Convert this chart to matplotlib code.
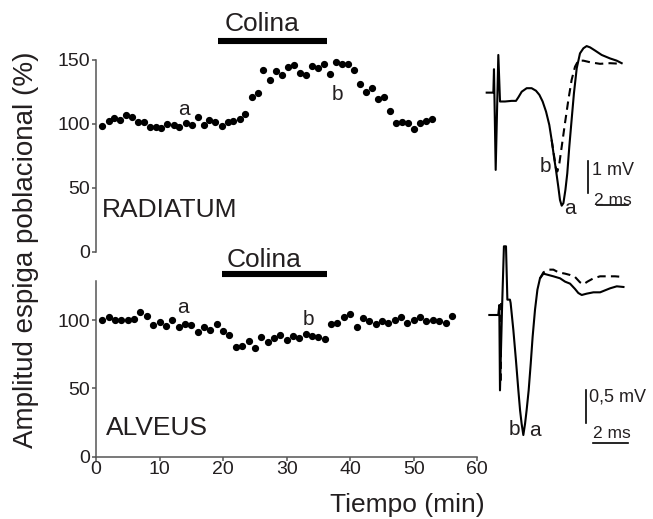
# Espiga poblacional en RADIATUM y ALVEUS durante la aplicación de colina
import numpy as np
from matplotlib import pyplot as plt

plt.rcParams['font.family'] = ['Liberation Sans', 'DejaVu Sans']

# datos: tiempo (min) y amplitud (% del control)
t_rad = [0.9, 2.1, 2.8, 3.8, 4.7, 5.6, 6.6, 7.5, 8.5, 9.4, 10.3, 11.2, 12.2, 13.1,
         14.1, 15.1, 16.0, 17.0, 17.8, 18.8, 19.8, 20.7, 21.6, 22.6, 23.5, 24.6,
         25.5, 26.3, 27.4, 28.3, 29.3, 30.2, 31.2, 32.1, 33.1, 34.0, 34.9, 35.9,
         36.8, 37.8, 38.7, 39.7, 40.6, 41.6, 42.5, 43.4, 44.4, 45.3, 46.3, 47.2,
         48.2, 49.1, 50.0, 51.0, 51.9, 52.9]
amp_rad = [98.7, 102.6, 104.4, 103.1, 106.8, 105.2, 101.8, 101.3, 97.7, 97.9, 97.1,
           100.0, 99.2, 97.9, 100.5, 99.2, 105.5, 99.0, 103.1, 101.6, 98.4, 101.3,
           102.6, 103.9, 107.6, 120.8, 124.0, 141.9, 134.6, 141.7, 138.0, 144.3,
           146.4, 140.1, 138.3, 145.3, 143.8, 146.6, 139.1, 148.2, 146.9, 146.6,
           142.4, 131.3, 124.7, 127.9, 119.5, 121.4, 110.2, 100.5, 101.8, 100.5,
           96.1, 100.5, 102.3, 104.2]

t_alv = list(range(1, 57))
amp_alv = [100.0, 102.5, 100.5, 100.7, 100.7, 101.0, 106.1, 103.2, 96.8, 98.5, 96.1,
           100.5, 95.1, 97.5, 96.8, 91.2, 95.1, 93.1, 97.5, 92.6, 89.2, 80.4, 80.9,
           84.6, 80.0, 87.5, 84.3, 87.0, 89.5, 85.3, 88.7, 86.8, 89.7, 88.5, 88.2,
           86.5, 97.1, 98.0, 102.5, 104.4, 95.1, 101.5, 99.5, 97.1, 99.5, 98.3,
           100.0, 102.2, 98.0, 100.0, 102.9, 99.5, 100.5, 99.5, 98.0, 103.2]

colina_rad = (19.2, 36.3)  # inicio y fin de la colina (min)
colina_alv = (19.9, 36.3)

# registros de ejemplo (ms, mV): a = control, b = colina
rad_a_t = [0, 0.43, 0.47, 0.58, 0.75, 0.86, 1.18, 1.61, 1.89, 2.04, 2.26, 2.58, 2.90,
           3.18, 3.40, 3.61, 3.83, 4.04, 4.19, 4.34, 4.47, 4.62, 4.73, 4.84, 4.95,
           5.08, 5.20, 5.33, 5.48, 5.63, 5.81, 6.02, 6.24, 6.45, 6.67, 6.99, 7.42,
           7.96, 8.39, 8.71]
rad_a_v = [0, 0, 0.74, -2.44, 1.19, -0.28, -0.28, -0.26, -0.26, -0.15, 0.03, 0.14,
           0.14, 0.06, -0.07, -0.28, -0.60, -1.02, -1.49, -2.02, -2.44, -2.97, -3.39,
           -3.57, -3.49, -3.07, -2.55, -1.71, -0.86, -0.02, 0.77, 1.24, 1.40, 1.47,
           1.43, 1.33, 1.19, 1.08, 1.01, 0.93]
rad_b_t = [4.19, 4.34, 4.47, 4.56, 4.69, 4.84, 5.05, 5.27, 5.48, 5.70, 5.91, 6.24,
           6.67, 7.31, 7.96, 8.71]
rad_b_v = [-1.49, -1.97, -2.39, -2.49, -2.23, -1.71, -0.97, -0.23, 0.40, 0.82, 1.01,
           1.01, 0.96, 0.91, 0.93, 0.91]

alv_a_t = [0, 0.52, 0.58, 0.62, 0.74, 0.85, 0.97, 1.05, 1.20, 1.24, 1.40, 1.55, 1.69,
           1.79, 1.88, 1.98, 2.08, 2.17, 2.29, 2.41, 2.52, 2.66, 2.80, 2.95, 3.15,
           3.44, 3.73, 4.12, 4.41, 4.70, 4.99, 5.18, 5.38, 5.67, 6.06, 6.45, 6.74,
           7.03, 7.42, 7.81]
alv_a_v = [0, 0, 0.15, -1.13, 0.10, 1.03, 1.03, 0.23, 0.23, 0.18, -0.23, -0.68, -1.13,
           -1.43, -1.63, -1.80, -1.63, -1.43, -1.13, -0.73, -0.33, 0.08, 0.38, 0.55,
           0.62, 0.60, 0.58, 0.55, 0.50, 0.47, 0.39, 0.33, 0.30, 0.32, 0.34, 0.34,
           0.37, 0.40, 0.43, 0.42]
alv_b_t = [2.95, 3.15, 3.44, 3.73, 4.02, 4.41, 4.70, 4.99, 5.28, 5.48, 5.71, 6.06,
           6.45, 6.83, 7.32, 7.81]
alv_b_v = [0.55, 0.64, 0.68, 0.68, 0.64, 0.62, 0.60, 0.57, 0.49, 0.46, 0.50, 0.55,
           0.58, 0.58, 0.58, 0.57]

tc = '#231f20'  # color del texto
sc = '#555555'  # color de los ejes

fig = plt.figure(figsize=(6.53, 5.19), dpi=100)


def estilo(ax, ylim, abajo):
    ax.set_xlim(0, 60)
    ax.set_ylim(*ylim)
    for s in ['top', 'right']:
        ax.spines[s].set_visible(False)
    ax.spines['left'].set_color(sc)
    ax.spines['left'].set_linewidth(1.1)
    ax.set_yticks([0, 50, 100] + ([150] if ylim[1] >= 150 else []))
    ax.tick_params(axis='y', direction='out', length=3, width=1.1, color=sc,
                   labelsize=14, labelcolor=tc, pad=1)
    if abajo:
        ax.spines['bottom'].set_color(sc)
        ax.spines['bottom'].set_linewidth(1.1)
        ax.set_xticks(range(0, 61, 10))
        ax.tick_params(axis='x', direction='out', length=3, width=1.1, color=sc,
                       labelsize=14, labelcolor=tc, pad=0)
    else:
        ax.spines['bottom'].set_visible(False)
        ax.set_xticks([])


# panel superior: RADIATUM
ax1 = fig.add_axes([96 / 653, 267 / 519, 381.3 / 653, 192 / 519])
estilo(ax1, (0, 150), False)
ax1.plot(t_rad, amp_rad, 'o', color='black', markersize=4.2, clip_on=False)
ax1.plot(colina_rad, [165.2, 165.2], color='black', linewidth=4.4,
         solid_capstyle='butt', clip_on=False)
ax1.text(np.mean(colina_rad) - 1.6, 172.5, 'Colina', fontsize=19, color=tc,
         ha='center', va='baseline')
ax1.text(0.9, 33, 'RADIATUM', fontsize=19, color=tc, ha='left', va='center')
ax1.text(13.8, 107, 'a', fontsize=15, color=tc, ha='center', va='baseline')
ax1.text(38.0, 118.7, 'b', fontsize=15, color=tc, ha='center', va='baseline')

# panel inferior: ALVEUS
ax2 = fig.add_axes([96 / 653, 62.5 / 519, 381.3 / 653, 175.5 / 519])
estilo(ax2, (0, 129), True)
ax2.plot(t_alv, amp_alv, 'o', color='black', markersize=4.2, clip_on=False)
ax2.plot(colina_alv, [134.4, 134.4], color='black', linewidth=4.4,
         solid_capstyle='butt', clip_on=False)
ax2.text(np.mean(colina_alv) - 1.6, 139.6, 'Colina', fontsize=19, color=tc,
         ha='center', va='baseline')
ax2.text(1.5, 21, 'ALVEUS', fontsize=19, color=tc, ha='left', va='center')
ax2.text(13.7, 105.4, 'a', fontsize=15, color=tc, ha='center', va='baseline')
ax2.text(33.5, 96.8, 'b', fontsize=15, color=tc, ha='center', va='baseline')

fig.text(485 / 653, 1 - 512 / 519, 'Tiempo (min)', fontsize=19, color=tc,
         ha='right', va='baseline')
fig.text(26 / 653, 1 - 250 / 519, 'Amplitud espiga poblacional (%)', fontsize=20,
         color=tc, rotation=90, ha='center', va='center')

# registros RADIATUM
ins1 = fig.add_axes([483.6 / 653, 299.7 / 519, 165.8 / 653, 190 / 519])
ins1.set_xlim(-0.2, 10.5)
ins1.set_ylim(-4, 2)
ins1.axis('off')
ins1.plot(rad_a_t, rad_a_v, color='black', linewidth=1.5)
ins1.plot(rad_b_t, rad_b_v, color='black', linewidth=1.5, linestyle=(0, (4, 2.5)))
ins1.text(3.78, -2.34, 'b', fontsize=15, color=tc, ha='center', va='center')
ins1.text(5.38, -3.65, 'a', fontsize=15, color=tc, ha='center', va='center')
ins1.plot([6.56, 6.56], [-2.17, -3.17], color='black', linewidth=1.2)
ins1.text(6.8, -2.46, '1 mV', fontsize=13, color=tc, ha='left', va='center')
ins1.plot([7.14, 9.14], [-3.55, -3.55], color='black', linewidth=1.2)
ins1.text(8.13, -3.41, '2 ms', fontsize=12.5, color=tc, ha='center', va='center')

# registros ALVEUS
ins2 = fig.add_axes([485.9 / 653, 57.3 / 519, 158 / 653, 233.4 / 519])
ins2.set_xlim(-0.2, 9)
ins2.set_ylim(-2.2, 1.3)
ins2.axis('off')
ins2.plot([0.70, 0.70], [0.18, -1.03], color='black', linewidth=1.3,
          linestyle=(0, (4, 2.5)))
ins2.plot(alv_a_t, alv_a_v, color='black', linewidth=1.5)
ins2.plot(alv_b_t, alv_b_v, color='black', linewidth=1.5, linestyle=(0, (4, 2.5)))
ins2.text(1.46, -1.71, 'b', fontsize=15, color=tc, ha='center', va='center')
ins2.text(2.66, -1.73, 'a', fontsize=15, color=tc, ha='center', va='center')
ins2.plot([5.63, 5.63], [-1.125, -1.625], color='black', linewidth=1.2)
ins2.text(5.8, -1.23, '0,5 mV', fontsize=13, color=tc, ha='left', va='center')
ins2.plot([6.06, 8.06], [-1.92, -1.92], color='black', linewidth=1.2)
ins2.text(7.13, -1.77, '2 ms', fontsize=12.5, color=tc, ha='center', va='center')

fig.savefig('out.png', dpi=100)
